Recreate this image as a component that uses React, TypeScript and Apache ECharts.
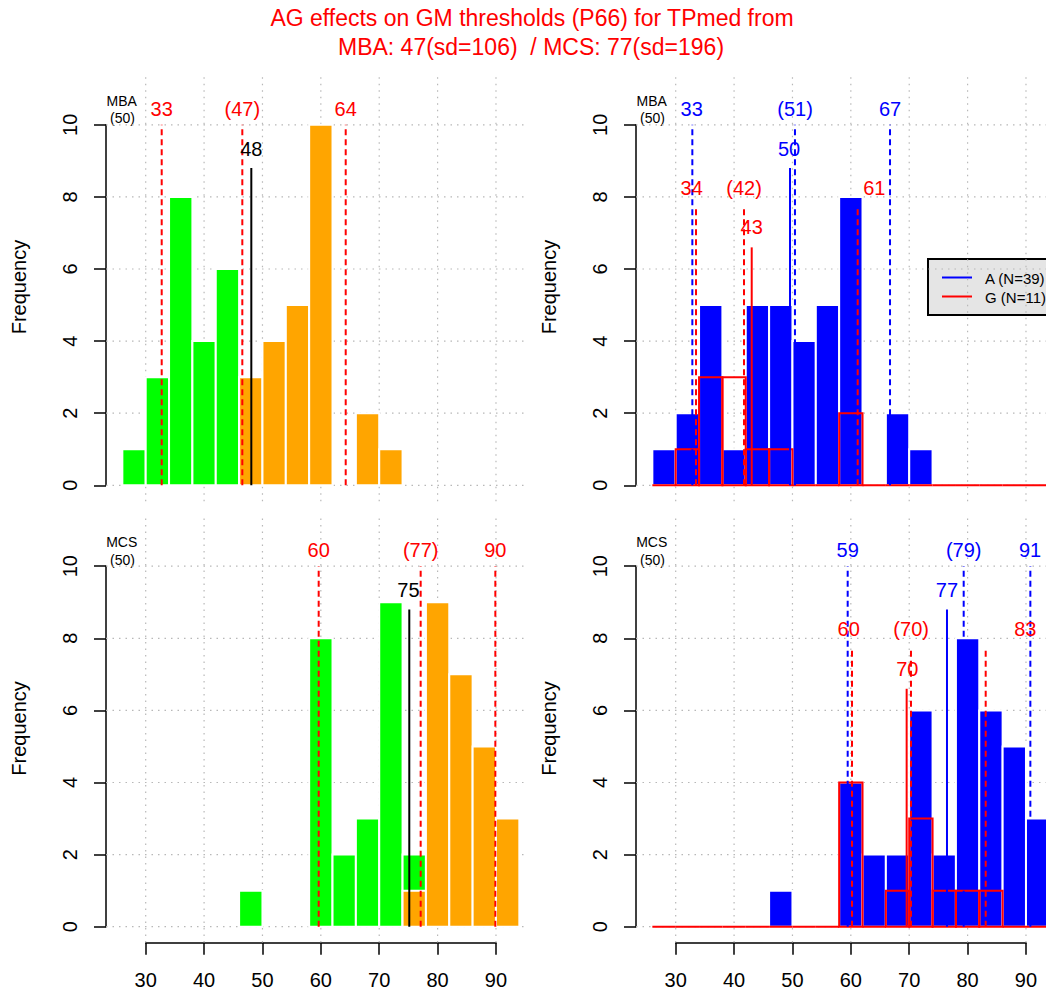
import React, { useEffect, useRef } from "react";
import * as echarts from "echarts";

// ---------------- data ----------------
const BREAKS = [26, 30, 34, 38, 42, 46, 50, 54, 58, 62, 66, 70, 74, 78, 82, 86, 90, 94];

// MBA, all subjects split at the median (low = green, high = orange)
const MBA_LOW = [1, 3, 8, 4, 6, 3, 0, 0, 0, 0, 0, 0, 0, 0, 0, 0, 0];
const MBA_HIGH = [0, 0, 0, 0, 0, 3, 4, 5, 10, 0, 2, 1, 0, 0, 0, 0, 0];
// MBA by group
const MBA_A = [1, 2, 5, 1, 5, 5, 4, 5, 8, 0, 2, 1, 0, 0, 0, 0, 0];
const MBA_G = [0, 1, 3, 3, 1, 1, 0, 0, 2, 0, 0, 0, 0, 0, 0, 0, 0];
// MCS, all subjects
const MCS_LOW = [0, 0, 0, 0, 0, 1, 0, 0, 8, 2, 3, 9, 2, 0, 0, 0, 0];
const MCS_HIGH = [0, 0, 0, 0, 0, 0, 0, 0, 0, 0, 0, 0, 1, 9, 7, 5, 3];
// MCS by group
const MCS_A = [0, 0, 0, 0, 0, 1, 0, 0, 4, 2, 2, 6, 2, 8, 6, 5, 3];
const MCS_G = [0, 0, 0, 0, 0, 0, 0, 0, 4, 0, 1, 3, 1, 1, 1, 0, 0];

// quantile / median markers (values on the x scale) and their labels
const MBA_ALL_Q = [32.74, 46.55, 64.26];
const MBA_ALL_Q_LABELS = ["33", "(47)", "64"];
const MBA_ALL_MED = [48.09];
const MBA_ALL_MED_LABELS = ["48"];

const MBA_A_Q = [32.85, 50.43, 66.71];
const MBA_A_Q_LABEL_X = [32.74, 50.45, 66.71];
const MBA_A_Q_LABELS = ["33", "(51)", "67"];
const MBA_A_MED = [49.58];
const MBA_A_MED_LABEL_X = [49.41];
const MBA_A_MED_LABELS = ["50"];
const MBA_G_Q = [33.48, 41.7, 61.17];
const MBA_G_Q_LABEL_X = [32.74, 41.7, 64.02];
const MBA_G_Q_LABELS = ["34", "(42)", "61"];
const MBA_G_MED = [43.02];
const MBA_G_MED_LABELS = ["43"];

const MCS_ALL_Q = [59.63, 77.1, 89.89];
const MCS_ALL_Q_LABELS = ["60", "(77)", "90"];
const MCS_ALL_MED = [75.15];
const MCS_ALL_MED_LABEL_X = [75.0];
const MCS_ALL_MED_LABELS = ["75"];

const MCS_A_Q = [59.46, 79.33, 90.75];
const MCS_A_Q_LABEL_X = [59.46, 79.33, 90.69];
const MCS_A_Q_LABELS = ["59", "(79)", "91"];
const MCS_A_MED = [76.47];
const MCS_A_MED_LABELS = ["77"];
const MCS_G_Q = [60.2, 70.3, 83.1];
const MCS_G_Q_LABEL_X = [59.63, 70.33, 89.89];
const MCS_G_Q_LABELS = ["60", "(70)", "83"];
const MCS_G_MED = [69.56];
const MCS_G_MED_LABEL_X = [69.67];
const MCS_G_MED_LABELS = ["70"];

// marker heights (frequency units) and label heights
const TOP_OUTER = 10;
const TOP_MED = 8.8;
const TOP_G_OUTER = 7.72;
const TOP_G_MED = 6.6;
const LBL_OUTER = 10.44;
const LBL_MED = 9.33;
const LBL_G_OUTER = 8.26;
const LBL_G_MED = 7.16;

// axis ticks / grid
const X_TICKS = [30, 40, 50, 60, 70, 80, 90];
const Y_TICKS = [0, 2, 4, 6, 8, 10];
const USR_X = [23.2, 95];
const USR_Y = [-0.44, 11.44];

const TITLE1 = "AG effects on GM thresholds (P66) for TPmed from";
const TITLE2 = "MBA: 47(sd=106)  / MCS: 77(sd=196)";

// ---------------- style / layout ----------------
const FONT = '"Liberation Sans", Arial, Helvetica, sans-serif';
const RED = "#FF0000";
const BLUE = "#0000FF";
const GREEN = "#00FF00";
const ORANGE = "#FFA500";
const UX = 5.838;
const UY = 36.05;
const PANELS = [
  { x30: 145.7, y0: 485.3 },
  { x30: 675.7, y0: 485.3 },
  { x30: 145.7, y0: 926.7 },
  { x30: 675.7, y0: 926.7 },
];

function gridLinesSeries(p: number) {
  return {
    type: "custom",
    xAxisIndex: p,
    yAxisIndex: p,
    silent: true,
    clip: false,
    data: [[30, 0]],
    renderItem: (params: any, api: any) => {
      const children: any[] = [];
      const st = { stroke: "#B8B8B8", lineWidth: 1.2, lineDash: [1.5, 5] };
      X_TICKS.forEach((v) => {
        const a = api.coord([v, USR_Y[0]]);
        const b = api.coord([v, USR_Y[1]]);
        children.push({ type: "line", shape: { x1: a[0], y1: a[1], x2: b[0], y2: b[1] }, style: st });
      });
      Y_TICKS.forEach((v) => {
        const a = api.coord([USR_X[0], v]);
        const b = api.coord([USR_X[1], v]);
        children.push({ type: "line", shape: { x1: a[0], y1: a[1], x2: b[0], y2: b[1] }, style: st });
      });
      return { type: "group", children };
    },
  };
}

function histSeries(p: number, counts: number[], color: string) {
  return {
    type: "custom",
    xAxisIndex: p,
    yAxisIndex: p,
    silent: true,
    clip: false,
    data: counts.map((c, i) => [BREAKS[i], c, BREAKS[i + 1]]),
    renderItem: (params: any, api: any) => {
      const c = api.value(1);
      if (!(c > 0)) return null;
      const a = api.coord([api.value(0), c]);
      const b = api.coord([api.value(2), 0]);
      return {
        type: "rect",
        shape: { x: a[0], y: a[1], width: b[0] - a[0], height: b[1] - a[1] },
        style: { fill: color, stroke: "#FFFFFF", lineWidth: 2 },
      };
    },
  };
}

function outlineSeries(p: number, counts: number[], color: string) {
  return {
    type: "custom",
    xAxisIndex: p,
    yAxisIndex: p,
    silent: true,
    clip: false,
    data: counts.map((c, i) => [BREAKS[i], c, BREAKS[i + 1]]),
    renderItem: (params: any, api: any) => {
      const c = api.value(1);
      const x0 = api.value(0);
      const x1 = api.value(2);
      const pts = [api.coord([x0, 0]), api.coord([x0, c]), api.coord([x1, c]), api.coord([x1, 0])];
      return {
        type: "polygon",
        shape: { points: pts },
        style: { fill: "none", stroke: color, lineWidth: 2 },
      };
    },
  };
}

function markerSeries(
  p: number,
  xs: number[],
  labels: string[],
  labelXs: number[],
  top: number,
  labelY: number,
  color: string,
  dashed: boolean
) {
  return {
    type: "custom",
    xAxisIndex: p,
    yAxisIndex: p,
    silent: true,
    clip: false,
    data: xs.map((x, i) => [x, top, labelXs[i], labelY]),
    renderItem: (params: any, api: any) => {
      const i = params.dataIndex;
      const a = api.coord([api.value(0), 0]);
      const b = api.coord([api.value(0), api.value(1)]);
      const t = api.coord([api.value(2), api.value(3)]);
      return {
        type: "group",
        children: [
          {
            type: "line",
            shape: { x1: a[0], y1: a[1], x2: b[0], y2: b[1] },
            style: { stroke: color, lineWidth: 2, lineDash: dashed ? [6, 4] : null },
          },
          {
            type: "text",
            x: t[0],
            y: t[1],
            style: {
              text: labels[i],
              fill: color,
              fontSize: 20,
              fontFamily: FONT,
              align: "center",
              verticalAlign: "middle",
            },
          },
        ],
      };
    },
  };
}

function buildOption() {
  const grids: any[] = [];
  const xAxes: any[] = [];
  const yAxes: any[] = [];
  PANELS.forEach((pn, p) => {
    grids.push({
      left: pn.x30 + (USR_X[0] - 30) * UX,
      top: pn.y0 - 10 * UY,
      width: (USR_X[1] - USR_X[0]) * UX,
      height: 10 * UY,
      outerBoundsMode: "none",
      containLabel: false,
    });
    xAxes.push({ gridIndex: p, type: "value", min: USR_X[0], max: USR_X[1], show: false });
    yAxes.push({
      gridIndex: p,
      type: "value",
      min: 0,
      max: 10,
      interval: 2,
      axisLine: { show: true, lineStyle: { color: "#000", width: 1.5 } },
      axisTick: { show: true, length: 12, lineStyle: { color: "#000", width: 1.5 } },
      axisLabel: { rotate: 90, fontSize: 20, color: "#000", fontFamily: FONT, margin: 26 },
      splitLine: { show: false },
    });
  });
  // x axes for bottom panels
  [2, 3].forEach((p, k) => {
    const pn = PANELS[p];
    grids.push({
      left: pn.x30,
      top: pn.y0,
      width: 60 * UX,
      height: 16,
      outerBoundsMode: "none",
      containLabel: false,
    });
    xAxes.push({
      gridIndex: 4 + k,
      type: "value",
      min: 30,
      max: 90,
      interval: 10,
      position: "bottom",
      axisLine: { show: true, lineStyle: { color: "#000", width: 1.5 } },
      axisTick: { show: true, length: 12, lineStyle: { color: "#000", width: 1.5 } },
      axisLabel: { fontSize: 20, color: "#000", fontFamily: FONT, margin: 27 },
      splitLine: { show: false },
    });
    yAxes.push({ gridIndex: 4 + k, type: "value", min: 0, max: 1, show: false });
  });

  const series: any[] = [];
  [0, 1, 2, 3].forEach((p) => series.push(gridLinesSeries(p)));

  // panel 0: MBA all
  series.push(histSeries(0, MBA_LOW, GREEN));
  series.push(histSeries(0, MBA_HIGH, ORANGE));
  series.push(markerSeries(0, MBA_ALL_Q, MBA_ALL_Q_LABELS, MBA_ALL_Q, TOP_OUTER, LBL_OUTER, RED, true));
  series.push(markerSeries(0, MBA_ALL_MED, MBA_ALL_MED_LABELS, MBA_ALL_MED, TOP_MED, LBL_MED, "#000000", false));

  // panel 1: MBA by group
  series.push(histSeries(1, MBA_A, BLUE));
  series.push(outlineSeries(1, MBA_G, RED));
  series.push(markerSeries(1, MBA_A_Q, MBA_A_Q_LABELS, MBA_A_Q_LABEL_X, TOP_OUTER, LBL_OUTER, BLUE, true));
  series.push(markerSeries(1, MBA_A_MED, MBA_A_MED_LABELS, MBA_A_MED_LABEL_X, TOP_MED, LBL_MED, BLUE, false));
  series.push(markerSeries(1, MBA_G_Q, MBA_G_Q_LABELS, MBA_G_Q_LABEL_X, TOP_G_OUTER, LBL_G_OUTER, RED, true));
  series.push(markerSeries(1, MBA_G_MED, MBA_G_MED_LABELS, MBA_G_MED, TOP_G_MED, LBL_G_MED, RED, false));

  // panel 2: MCS all
  series.push(histSeries(2, MCS_LOW, GREEN));
  series.push(histSeries(2, MCS_HIGH, ORANGE));
  series.push(markerSeries(2, MCS_ALL_Q, MCS_ALL_Q_LABELS, MCS_ALL_Q, TOP_OUTER, LBL_OUTER, RED, true));
  series.push(markerSeries(2, MCS_ALL_MED, MCS_ALL_MED_LABELS, MCS_ALL_MED_LABEL_X, TOP_MED, LBL_MED, "#000000", false));

  // panel 3: MCS by group
  series.push(histSeries(3, MCS_A, BLUE));
  series.push(outlineSeries(3, MCS_G, RED));
  series.push(markerSeries(3, MCS_A_Q, MCS_A_Q_LABELS, MCS_A_Q_LABEL_X, TOP_OUTER, LBL_OUTER, BLUE, true));
  series.push(markerSeries(3, MCS_A_MED, MCS_A_MED_LABELS, MCS_A_MED, TOP_MED, LBL_MED, BLUE, false));
  series.push(markerSeries(3, MCS_G_Q, MCS_G_Q_LABELS, MCS_G_Q_LABEL_X, TOP_G_OUTER, LBL_G_OUTER, RED, true));
  series.push(markerSeries(3, MCS_G_MED, MCS_G_MED_LABELS, MCS_G_MED_LABEL_X, TOP_G_MED, LBL_G_MED, RED, false));

  const txt = (text: string, x: number, y: number, size: number, color: string, extra: any = {}) => ({
    type: "text",
    x,
    y,
    ...extra,
    style: { text, fill: color, fontSize: size, fontFamily: FONT, align: "center", verticalAlign: "middle" },
  });

  const graphic: any[] = [
    txt(TITLE1, 532, 18, 23, RED),
    txt(TITLE2, 531, 47, 23, RED),
  ];
  PANELS.forEach((pn, p) => {
    const name = p < 2 ? "MBA" : "MCS";
    const dx = pn.x30 - 145.7;
    const top10 = pn.y0 - 10 * UY;
    graphic.push(txt(name, 121.7 + dx, top10 - 24, 14, "#000"));
    graphic.push(txt("(50)", 122.5 + dx, top10 - 6.5, 14, "#000"));
    graphic.push(txt("Frequency", 18.5 + dx, pn.y0 - 5.5 * UY, 20, "#000", { rotation: Math.PI / 2 }));
  });
  // legend box (top-right panel)
  graphic.push({
    type: "rect",
    shape: { x: 928, y: 259, width: 140, height: 56 },
    style: { fill: "#E5E5E5", stroke: "#000", lineWidth: 2 },
  });
  graphic.push({ type: "line", shape: { x1: 942, y1: 277.5, x2: 972, y2: 277.5 }, style: { stroke: BLUE, lineWidth: 2 } });
  graphic.push({ type: "line", shape: { x1: 942, y1: 296.5, x2: 972, y2: 296.5 }, style: { stroke: RED, lineWidth: 2 } });
  graphic.push({
    type: "text",
    x: 985,
    y: 278,
    style: { text: "A (N=39)", fill: "#000", fontSize: 15, fontFamily: FONT, align: "left", verticalAlign: "middle" },
  });
  graphic.push({
    type: "text",
    x: 985,
    y: 297,
    style: { text: "G (N=11)", fill: "#000", fontSize: 15, fontFamily: FONT, align: "left", verticalAlign: "middle" },
  });

  return {
    animation: false,
    backgroundColor: "#FFFFFF",
    grid: grids,
    xAxis: xAxes,
    yAxis: yAxes,
    series,
    graphic,
  };
}

export default function App() {
  const ref = useRef<HTMLDivElement>(null);
  useEffect(() => {
    if (!ref.current) return;
    const chart = echarts.init(ref.current, null, { renderer: "svg" });
    chart.setOption(buildOption() as any);
    return () => chart.dispose();
  }, []);
  return (
    <div
      ref={ref}
      style={{ position: "absolute", left: 0, top: 0, width: 1046, height: 994, background: "#fff" }}
    />
  );
}
